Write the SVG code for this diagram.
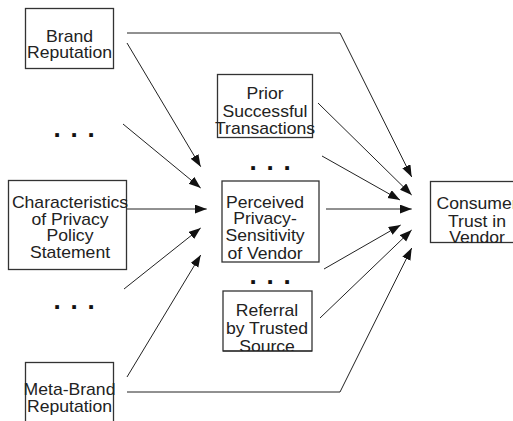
<svg xmlns="http://www.w3.org/2000/svg" width="513" height="421" viewBox="0 0 513 421">
  <style>
    .box { fill: #fff; stroke: #333; stroke-width: 1.3; }
    .lbl { font-family: "Liberation Sans", Arial, sans-serif; font-size: 16px; fill: #222; text-anchor: middle; }
    .dots { font-family: "Liberation Sans", Arial, sans-serif; font-size: 26px; font-weight: bold; fill: #111; letter-spacing: 9.8px; }
    .edge { fill: none; stroke: #222; stroke-width: 1; marker-end: url(#head); }
    .plain { fill: none; stroke: #222; stroke-width: 1; }
  </style>
  <defs>
    <marker id="head" markerUnits="userSpaceOnUse" markerWidth="13" markerHeight="10" refX="12" refY="4.5" orient="auto">
      <path d="M0,0 L12,4.5 L0,9 z" fill="#111"/>
    </marker>
    <clipPath id="clipReferral">
      <rect x="223" y="291" width="89" height="60"/>
    </clipPath>
  </defs>
  <rect width="513" height="421" fill="#fff"/>

  <!-- connectors -->
  <g id="connectors">
    <polyline class="edge" points="127,33 340,33 411.7,177"/>
    <line class="edge" x1="127" y1="43" x2="200.7" y2="166.7"/>
    <line class="edge" x1="123" y1="124" x2="200.7" y2="188"/>
    <line class="edge" x1="120" y1="209" x2="206.7" y2="209"/>
    <line class="edge" x1="124" y1="289" x2="200.7" y2="228"/>
    <line class="edge" x1="127" y1="377" x2="200.7" y2="255"/>
    <polyline class="edge" points="127,392 340,392 411.7,248"/>
    <line class="edge" x1="318" y1="103" x2="411.7" y2="195"/>
    <line class="edge" x1="322" y1="156" x2="400" y2="200"/>
    <line class="edge" x1="326" y1="209" x2="411.7" y2="209"/>
    <line class="edge" x1="324" y1="269" x2="400.7" y2="225"/>
    <line class="edge" x1="320" y1="318" x2="411.7" y2="230"/>
  </g>

  <!-- left column -->
  <g id="brand-reputation">
    <rect class="box" x="25.5" y="8.5" width="88" height="60"/>
    <text class="lbl" transform="translate(69.5 0) scale(1.1 1)" y="42">Brand</text>
    <text class="lbl" transform="translate(69.5 0) scale(1.1 1)" y="58">Reputation</text>
  </g>

  <g id="more-left-upper">
    <text class="dots" x="53.4" y="136.8">...</text>
  </g>

  <g id="privacy-policy">
    <rect class="box" x="8.5" y="180.5" width="118" height="89"/>
    <text class="lbl" transform="translate(70 0) scale(1.1 1)" y="208">Characteristics</text>
    <text class="lbl" transform="translate(70 0) scale(1.1 1)" y="225">of Privacy</text>
    <text class="lbl" transform="translate(70 0) scale(1.1 1)" y="241">Policy</text>
    <text class="lbl" transform="translate(70 0) scale(1.1 1)" y="258">Statement</text>
  </g>

  <g id="more-left-lower">
    <text class="dots" x="53.4" y="308.8">...</text>
  </g>

  <g id="meta-brand-reputation">
    <rect class="box" x="25.5" y="362.5" width="88" height="70"/>
    <text class="lbl" transform="translate(69.5 0) scale(1.1 1)" y="395">Meta-Brand</text>
    <text class="lbl" transform="translate(69.5 0) scale(1.1 1)" y="412">Reputation</text>
  </g>

  <!-- middle column -->
  <g id="prior-transactions">
    <rect class="box" x="217.5" y="74.5" width="95" height="63"/>
    <text class="lbl" transform="translate(265 0) scale(1.1 1)" y="99">Prior</text>
    <text class="lbl" transform="translate(265 0) scale(1.1 1)" y="117">Successful</text>
    <text class="lbl" transform="translate(265 0) scale(1.1 1)" y="134">Transactions</text>
  </g>

  <g id="more-middle-upper">
    <text class="dots" x="249.4" y="169.8">...</text>
  </g>

  <g id="privacy-sensitivity">
    <rect class="box" x="222" y="181" width="97" height="81"/>
    <text class="lbl" transform="translate(265 0) scale(1.1 1)" y="208">Perceived</text>
    <text class="lbl" transform="translate(265 0) scale(1.1 1)" y="224">Privacy-</text>
    <text class="lbl" transform="translate(265 0) scale(1.1 1)" y="241">Sensitivity</text>
    <text class="lbl" transform="translate(265 0) scale(1.1 1)" y="259">of Vendor</text>
  </g>

  <g id="more-middle-lower">
    <text class="dots" x="249.4" y="283.8">...</text>
  </g>

  <g id="trusted-referral">
    <rect class="box" x="223" y="291" width="89" height="60"/>
    <g clip-path="url(#clipReferral)">
      <text class="lbl" transform="translate(267 0) scale(1.1 1)" y="316">Referral</text>
      <text class="lbl" transform="translate(267 0) scale(1.1 1)" y="334">by Trusted</text>
      <text class="lbl" transform="translate(267 0) scale(1.1 1)" y="352">Source</text>
    </g>
    <line class="plain" x1="223" y1="351" x2="312" y2="351" stroke="#333" stroke-width="1.3"/>
  </g>

  <!-- outcome -->
  <g id="consumer-trust">
    <rect class="box" x="430.5" y="181.5" width="100" height="61"/>
    <text class="lbl" transform="translate(477 0) scale(1.1 1)" y="209">Consumer</text>
    <text class="lbl" transform="translate(477 0) scale(1.1 1)" y="227">Trust in</text>
    <text class="lbl" transform="translate(477 0) scale(1.1 1)" y="243">Vendor</text>
  </g>
</svg>
